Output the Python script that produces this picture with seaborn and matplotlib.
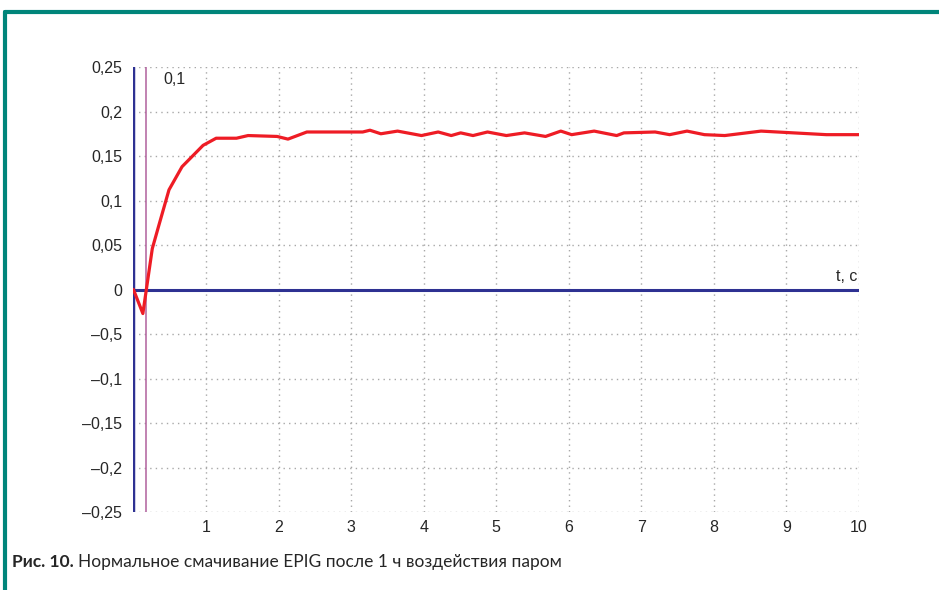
import pandas as pd
import matplotlib.pyplot as plt
import seaborn as sns
import numpy as np

# kinetics
t = [0, 0.13, 0.26, 0.35, 0.49, 0.67, 0.96, 1.14, 1.42, 1.58, 1.98, 2.13, 2.39,
     3.16, 3.26, 3.41, 3.64, 3.97, 4.2, 4.38, 4.51, 4.68, 4.88, 5.14, 5.39, 5.68,
     5.89, 6.04, 6.35, 6.66, 6.76, 7.19, 7.39, 7.63, 7.87, 8.15, 8.65, 9.55, 10.0]
f = [0, -0.027, 0.046, 0.072, 0.112, 0.138, 0.162, 0.170, 0.170, 0.173, 0.172, 0.169, 0.177,
     0.177, 0.179, 0.175, 0.178, 0.173, 0.177, 0.173, 0.176, 0.173, 0.177, 0.173, 0.176, 0.172,
     0.178, 0.174, 0.178, 0.173, 0.176, 0.177, 0.174, 0.178, 0.174, 0.173, 0.178, 0.174, 0.174]

yticks = [0.25, 0.2, 0.15, 0.1, 0.05, 0, -0.05, -0.1, -0.15, -0.2, -0.25]
ylabels = ['0,25', '0,2', '0,15', '0,1', '0,05', '0', '\u20130,5', '\u20130,1',
           '\u20130,15', '\u20130,2', '\u20130,25']
xticks = [1, 2, 3, 4, 5, 6, 7, 8, 9, 10]
marker_t = 0.17

df = pd.DataFrame({'t': t, 'F': f})

sns.set_style('white')
plt.rcParams['font.family'] = ['Liberation Sans', 'DejaVu Sans']

fig = plt.figure(figsize=(9.39, 5.90), dpi=100)
ax = fig.add_axes([0.1421, 0.1322, 0.7727, 0.7542])

for s in ax.spines.values():
    s.set_visible(False)

for x in xticks:
    ax.axvline(x, color='#a8a8a8', lw=1, ls=(0, (1, 3)), zorder=0)
for y in yticks:
    if y != 0:
        ax.axhline(y, color='#a8a8a8', lw=1, ls=(0, (1, 3)), zorder=0)

ax.axvline(0, color='#2e3192', lw=2.5, zorder=3)
ax.axhline(0, color='#2e3192', lw=2.2, zorder=3)
ax.axvline(marker_t, color='#b0609c', lw=1.1, zorder=2)

sns.lineplot(data=df, x='t', y='F', color='#ee1c25', lw=2.3, ax=ax, zorder=4)

ax.set_xlim(0, 10)
ax.set_ylim(-0.25, 0.25)
ax.set_xticks(xticks)
ax.set_xticklabels([str(x) for x in xticks], fontsize=11.5)
ax.set_yticks(yticks)
ax.set_yticklabels(ylabels, fontsize=11.5)
ax.tick_params(axis='y', length=0, pad=8)
ax.tick_params(axis='x', length=0, pad=6)
ax.set_xlabel('')
ax.set_ylabel('')

ax.text(9.98, 0.006, 't, c', ha='right', va='bottom', fontsize=11.5)
ax.text(marker_t + 0.24, 0.236, '0,1', ha='left', va='center', fontsize=11.5)

# frame and caption
fig.add_artist(plt.Line2D([5 / 939, 1], [1 - 12 / 590, 1 - 12 / 590], color='#00857a', lw=3))
fig.add_artist(plt.Line2D([5 / 939, 5 / 939], [0, 1 - 12 / 590], color='#00857a', lw=3))
cap = fig.text(12 / 939, 1 - 562 / 590, 'Рис. 10.', fontsize=12.5, fontweight='bold',
               ha='left', va='center', family=['Lato', 'DejaVu Sans'])
fig.canvas.draw()
bb = cap.get_window_extent()
fig.text((bb.x1 + 4) / 939, 1 - 562 / 590, 'Нормальное смачивание EPIG после 1 ч воздействия паром',
         fontsize=12.5, ha='left', va='center', family=['Lato', 'DejaVu Sans'])

fig.savefig('out.png', dpi=100)
